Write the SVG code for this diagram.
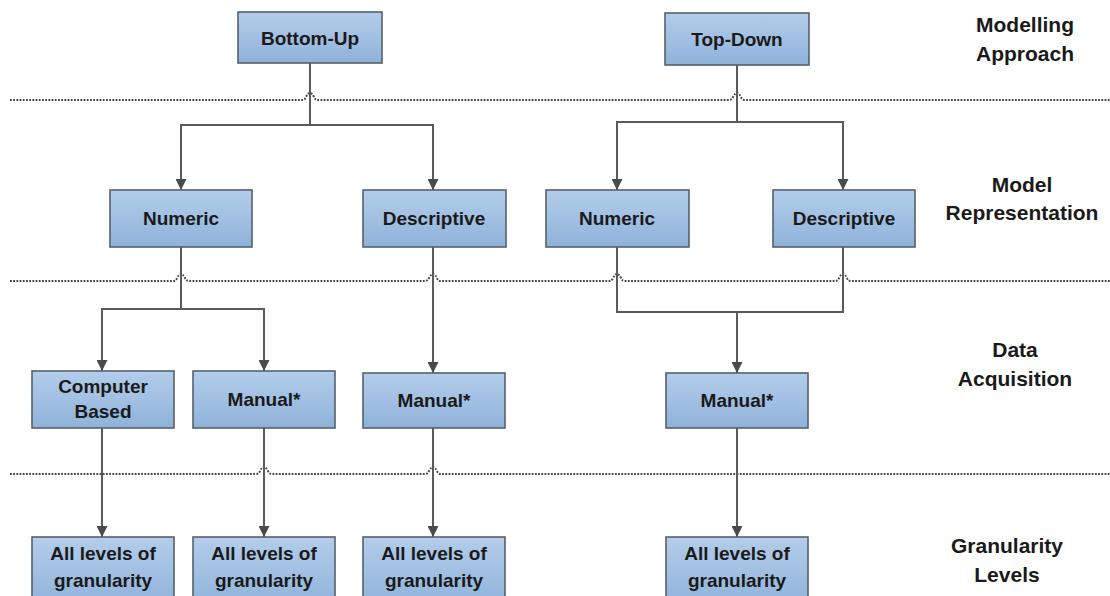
<svg xmlns="http://www.w3.org/2000/svg" width="1110" height="596" viewBox="0 0 1110 596">
<defs>
<linearGradient id="g" x1="0" y1="0" x2="0" y2="1">
<stop offset="0" stop-color="#b3cdea"/>
<stop offset="1" stop-color="#8fb2da"/>
</linearGradient>
<marker id="ah" markerWidth="11" markerHeight="11" refX="10" refY="5" orient="auto" markerUnits="userSpaceOnUse" viewBox="0 0 10 10">
<path d="M0,0 L10,5 L0,10 Z" fill="#4a4a4a"/>
</marker>
</defs>
<style>
.box{fill:url(#g);stroke:#56616c;stroke-width:1.6}
.t{font-family:"Liberation Sans",Arial,sans-serif;font-weight:bold;font-size:19px;fill:#1a1a1a;text-anchor:middle}
.lab{font-family:"Liberation Sans",Arial,sans-serif;font-weight:bold;font-size:21px;fill:#1a1a1a;text-anchor:middle}
.c{fill:none;stroke:#5a5a5a;stroke-width:2}
.d{fill:none;stroke:#444;stroke-width:2;stroke-dasharray:1.8 1.4}
</style>
<rect width="1110" height="596" fill="#fff"/>

<g id="dividers">
<path class="d" d="M10,100 L302,100 Q305,100 306,97 Q308,93 310,93 Q312,93 314,97 Q315,100 318,100 L729,100 Q732,100 733,97 Q735,93 737,93 Q739,93 741,97 Q742,100 745,100 L1110,100"/>
<path class="d" d="M10,281 L173,281 Q176,281 177,278 Q179,274 181,274 Q183,274 185,278 Q186,281 189,281 L425,281 Q428,281 429,278 Q431,274 433,274 Q435,274 437,278 Q438,281 441,281 L609,281 Q612,281 613,278 Q615,274 617,274 Q619,274 621,278 Q622,281 625,281 L835,281 Q838,281 839,278 Q841,274 843,274 Q845,274 847,278 Q848,281 851,281 L1110,281"/>
<path class="d" d="M10,474 L256,474 Q259,474 260,471 Q262,467 264,467 Q266,467 268,471 Q269,474 272,474 L425,474 Q428,474 429,471 Q431,467 433,467 Q435,467 437,471 Q438,474 441,474 L1110,474"/>
</g>

<g id="connectors">
<path class="c" d="M310,63 L310,125"/>
<path class="c" d="M310,125 L181,125 L181,190" marker-end="url(#ah)"/>
<path class="c" d="M310,125 L433,125 L433,190" marker-end="url(#ah)"/>
<path class="c" d="M737,65 L737,122"/>
<path class="c" d="M737,122 L617,122 L617,190" marker-end="url(#ah)"/>
<path class="c" d="M737,122 L843,122 L843,190" marker-end="url(#ah)"/>
<path class="c" d="M181,247 L181,309"/>
<path class="c" d="M181,309 L102,309 L102,371" marker-end="url(#ah)"/>
<path class="c" d="M181,309 L264,309 L264,371" marker-end="url(#ah)"/>
<path class="c" d="M433,247 L433,373" marker-end="url(#ah)"/>
<path class="c" d="M617,247 L617,312 L843,312 L843,247"/>
<path class="c" d="M737,312 L737,373" marker-end="url(#ah)"/>
<path class="c" d="M102,428 L102,537" marker-end="url(#ah)"/>
<path class="c" d="M264,428 L264,537" marker-end="url(#ah)"/>
<path class="c" d="M433,428 L433,537" marker-end="url(#ah)"/>
<path class="c" d="M737,428 L737,537" marker-end="url(#ah)"/>
</g>

<g id="bottom-up"><rect class="box" x="238" y="12" width="144" height="51"/><text class="t" x="310" y="45">Bottom-Up</text></g>
<g id="top-down"><rect class="box" x="665" y="13" width="144" height="52"/><text class="t" x="737" y="46">Top-Down</text></g>

<g id="bu-numeric"><rect class="box" x="110" y="190" width="142" height="57"/><text class="t" x="181" y="225">Numeric</text></g>
<g id="bu-descriptive"><rect class="box" x="363" y="190" width="143" height="57"/><text class="t" x="434" y="225">Descriptive</text></g>
<g id="td-numeric"><rect class="box" x="546" y="190" width="143" height="57"/><text class="t" x="617" y="225">Numeric</text></g>
<g id="td-descriptive"><rect class="box" x="773" y="190" width="142" height="57"/><text class="t" x="844" y="225">Descriptive</text></g>

<g id="computer-based"><rect class="box" x="32" y="371" width="142" height="57"/><text class="t" x="103" y="393">Computer</text><text class="t" x="103" y="418">Based</text></g>
<g id="manual-1"><rect class="box" x="193" y="371" width="142" height="57"/><text class="t" x="264" y="406">Manual*</text></g>
<g id="manual-2"><rect class="box" x="363" y="373" width="142" height="55"/><text class="t" x="434" y="407">Manual*</text></g>
<g id="manual-3"><rect class="box" x="666" y="373" width="142" height="55"/><text class="t" x="737" y="407">Manual*</text></g>

<g id="gran-1"><rect class="box" x="32" y="537" width="142" height="70"/><text class="t" x="103" y="560">All levels of</text><text class="t" x="103" y="587">granularity</text></g>
<g id="gran-2"><rect class="box" x="193" y="537" width="142" height="70"/><text class="t" x="264" y="560">All levels of</text><text class="t" x="264" y="587">granularity</text></g>
<g id="gran-3"><rect class="box" x="363" y="537" width="142" height="70"/><text class="t" x="434" y="560">All levels of</text><text class="t" x="434" y="587">granularity</text></g>
<g id="gran-4"><rect class="box" x="666" y="537" width="142" height="70"/><text class="t" x="737" y="560">All levels of</text><text class="t" x="737" y="587">granularity</text></g>

<g id="labels">
<text class="lab" x="1025" y="32">Modelling</text>
<text class="lab" x="1025" y="61">Approach</text>
<text class="lab" x="1022" y="192">Model</text>
<text class="lab" x="1022" y="220">Representation</text>
<text class="lab" x="1015" y="357">Data</text>
<text class="lab" x="1015" y="386">Acquisition</text>
<text class="lab" x="1007" y="553">Granularity</text>
<text class="lab" x="1007" y="582">Levels</text>
</g>
</svg>
